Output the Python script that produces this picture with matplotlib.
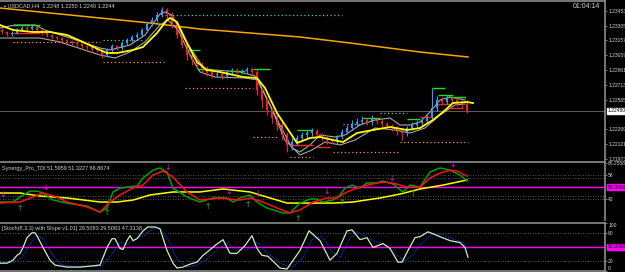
import matplotlib
matplotlib.use("Agg")
import matplotlib.pyplot as plt
import matplotlib.transforms as mtransforms

plt.rcParams["font.family"] = ["Liberation Sans", "DejaVu Sans"]

# USDCAD H4 bars (open of each bar = close of the previous one)
first_open = 1.2326
closes = [1.2324, 1.2322, 1.2323, 1.2326, 1.2328, 1.2327, 1.2329, 1.2326, 1.2323, 1.2321,
          1.2319, 1.2318, 1.2316, 1.2315, 1.2313, 1.2312, 1.2310, 1.2309, 1.2307, 1.2306,
          1.2301, 1.2306, 1.2310, 1.2308, 1.2313, 1.2316, 1.2319, 1.2321, 1.2326, 1.2332,
          1.2336, 1.2341, 1.2346, 1.2342, 1.2331, 1.2321, 1.2311, 1.2301, 1.2296, 1.2292,
          1.2288, 1.2284, 1.2281, 1.2282, 1.2280, 1.2284, 1.2286, 1.2284, 1.2285, 1.2287,
          1.2284, 1.2266, 1.2256, 1.2246, 1.2238, 1.2231, 1.2221, 1.2211, 1.2214, 1.2218,
          1.2221, 1.2223, 1.2225, 1.2221, 1.2218, 1.2216, 1.2215, 1.2219, 1.2224, 1.2228,
          1.2232, 1.2234, 1.2236, 1.2234, 1.2237, 1.2235, 1.2232, 1.2230, 1.2228, 1.2225,
          1.2223, 1.2228, 1.2231, 1.2233, 1.2235, 1.2239, 1.2248, 1.2256, 1.2254, 1.2258,
          1.2256, 1.2253, 1.2252, 1.2245]
highs = [1.2328, 1.2325, 1.2325, 1.2328, 1.2330, 1.2330, 1.2332, 1.2330, 1.2327, 1.2324,
         1.2322, 1.2320, 1.2319, 1.2317, 1.2316, 1.2314, 1.2313, 1.2311, 1.2310, 1.2308,
         1.2307, 1.2308, 1.2312, 1.2311, 1.2315, 1.2318, 1.2321, 1.2324, 1.2328, 1.2334,
         1.2339, 1.2344, 1.2349, 1.2348, 1.2344, 1.2333, 1.2323, 1.2313, 1.2304, 1.2298,
         1.2294, 1.2290, 1.2286, 1.2284, 1.2284, 1.2286, 1.2288, 1.2288, 1.2287, 1.2289,
         1.2289, 1.2286, 1.2268, 1.2259, 1.2248, 1.2241, 1.2234, 1.2224, 1.2218, 1.2221,
         1.2224, 1.2226, 1.2228, 1.2227, 1.2223, 1.2220, 1.2218, 1.2221, 1.2227, 1.2231,
         1.2236, 1.2238, 1.2240, 1.2238, 1.2241, 1.2239, 1.2237, 1.2234, 1.2232, 1.2230,
         1.2227, 1.2230, 1.2234, 1.2236, 1.2238, 1.2242, 1.2268, 1.2260, 1.2259, 1.2261,
         1.2260, 1.2259, 1.2256, 1.2256]
lows = [1.2322, 1.2320, 1.2320, 1.2322, 1.2325, 1.2325, 1.2326, 1.2324, 1.2321, 1.2319,
        1.2317, 1.2316, 1.2314, 1.2313, 1.2311, 1.2310, 1.2308, 1.2307, 1.2305, 1.2304,
        1.2298, 1.2299, 1.2304, 1.2306, 1.2306, 1.2311, 1.2314, 1.2317, 1.2319, 1.2324,
        1.2330, 1.2334, 1.2339, 1.2338, 1.2328, 1.2318, 1.2308, 1.2296, 1.2291, 1.2288,
        1.2284, 1.2280, 1.2278, 1.2279, 1.2277, 1.2278, 1.2282, 1.2282, 1.2282, 1.2283,
        1.2281, 1.2261, 1.2248, 1.2241, 1.2233, 1.2226, 1.2216, 1.2204, 1.2206, 1.2211,
        1.2215, 1.2218, 1.2220, 1.2218, 1.2215, 1.2212, 1.2212, 1.2212, 1.2217, 1.2222,
        1.2226, 1.2230, 1.2232, 1.2231, 1.2231, 1.2232, 1.2229, 1.2227, 1.2225, 1.2221,
        1.2216, 1.2220, 1.2226, 1.2229, 1.2231, 1.2233, 1.2237, 1.2245, 1.2251, 1.2252,
        1.2253, 1.2250, 1.2248, 1.2243]
opens = [first_open] + closes[:-1]

# moving averages (bar index, price)
orange_x = [-0.4, 9.6, 19.6, 29.6, 39.6, 49.6, 59.6, 69.6, 83.6, 93.2]
orange_y = [1.2348, 1.2343, 1.2338, 1.2333, 1.2327, 1.2323, 1.2319, 1.2313, 1.2304, 1.2299]

yellow_x = [-0.4, 2.2, 6.2, 9.6, 13, 16.2, 19.6, 21, 23, 26.2, 28.2, 31, 33, 33.6, 35, 37, 39, 41,
            43.6, 48.2, 51, 52.6, 55, 59, 61.6, 63.6, 66.2, 68.2, 71, 74.2, 77.6, 81, 83.6, 86.2,
            88.2, 90.2, 93, 94.2]
yellow_y = [1.2331, 1.2326, 1.2324, 1.2324, 1.2321, 1.2314, 1.2306, 1.2303, 1.2303, 1.2306, 1.2309,
            1.2323, 1.2336, 1.2338, 1.2334, 1.2313, 1.2294, 1.2286, 1.2284, 1.2279, 1.2278, 1.2268,
            1.2243, 1.2213, 1.2218, 1.2219, 1.2216, 1.2214, 1.2223, 1.2226, 1.2229, 1.2226, 1.2228,
            1.2236, 1.2244, 1.2253, 1.2254, 1.2253]

gray1_x = [-0.4, 2.6, 6.6, 8.6, 13.6, 19.6, 21.6, 25.6, 28.6, 31.6, 32.6, 34, 36.6, 38.6, 40.6, 42.6,
           47.6, 50.6, 52.6, 55.6, 58, 59.6, 61.6, 63.6, 66.6, 68.6, 71.6, 74.6, 77.6, 79.6, 81.6,
           83.6, 85.6, 87.6, 89.6, 92.6]
gray1_y = [1.2328, 1.2331, 1.2331, 1.2326, 1.2318, 1.2308, 1.2306, 1.2311, 1.2321, 1.2342, 1.2344,
           1.2341, 1.2316, 1.2301, 1.2286, 1.2286, 1.2284, 1.2280, 1.2261, 1.2231, 1.2208, 1.2204,
           1.2211, 1.2221, 1.2219, 1.2221, 1.2231, 1.2236, 1.2238, 1.2231, 1.2231, 1.2234, 1.2244,
           1.2256, 1.2259, 1.2256]
gray2_x = [-0.4, 3.6, 7.6, 11.6, 19.6, 22.6, 25.6, 28.6, 31.6, 33.2, 35.2, 37.6, 39.6, 42.6, 48.6,
           51.2, 53.6, 56.6, 59.6, 62, 64.6, 67.6, 70.6, 74.6, 78.6, 81.6, 84.6, 87.6, 90.6, 92.6]
gray2_y = [1.2318, 1.2318, 1.2318, 1.2314, 1.2301, 1.2298, 1.2304, 1.2314, 1.2331, 1.2336, 1.2326,
           1.2301, 1.2284, 1.2279, 1.2278, 1.2276, 1.2251, 1.2216, 1.2201, 1.2206, 1.2214, 1.2211,
           1.2216, 1.2228, 1.2226, 1.2223, 1.2228, 1.2241, 1.2251, 1.2252]

# support / resistance levels: (first bar, last bar, price)
teal_dots = [(32.6, 68, 1.2341), (20.2, 28, 1.2316), (68.2, 71.6, 1.2232), (75.6, 81, 1.2243),
             (90.2, 93.2, 1.2259)]
pink_dots = [(2.2, 19.6, 1.2314), (20.2, 32.6, 1.2294), (36.6, 50.2, 1.2268), (50.2, 55, 1.2219),
             (57.6, 62.2, 1.2199), (66.2, 79.6, 1.2204), (79.6, 93.2, 1.2214)]
green_levels = [(2.2, 7.6, 1.2331), (37, 39.6, 1.2306), (39, 42, 1.2287), (45.6, 48.6, 1.2285),
                (50.2, 53.6, 1.2287), (59, 62.2, 1.2226), (72.2, 75.6, 1.2238), (81, 83.6, 1.2237),
                (86, 88.6, 1.2268), (87.2, 90.2, 1.2261), (89.2, 92.6, 1.2259)]
red_levels = [(2.2, 7.6, 1.2323), (57.6, 62.2, 1.2211), (63, 65.6, 1.2209), (83.6, 86.2, 1.2239),
              (87, 89.6, 1.2252), (89.2, 92.2, 1.2248)]

price_ticks = [1.23453, 1.23305, 1.23157, 1.23009, 1.22861, 1.22713, 1.22565, 1.22269, 1.22121, 1.21973]

# Synergy Pro TDI
tdi_green_x = [-0.4, 2.2, 4.2, 5.6, 7, 8.2, 10.2, 13, 17, 19.6, 21, 22.2, 23.6, 25.2, 27, 28.2, 30.2,
               31.6, 33, 34.2, 37, 39.6, 42.2, 45, 46.2, 47.6, 49.6, 51, 53, 56.2, 57.6, 59.6, 61.6,
               63, 64.2, 66.2, 67.6, 68.6, 70, 71.6, 73, 75, 76.2, 78.2, 80.2, 81.6, 83.6, 85.6,
               87.6, 89.6, 91.6, 93]
tdi_green_y = [40.2, 40.2, 44.9, 47.5, 47.5, 46.2, 41.5, 39.5, 37.5, 33.5, 36.2, 46.9, 49.5, 50.2,
               50.9, 56.2, 61.5, 62.9, 60.2, 49.5, 43.5, 40.2, 42.9, 42.9, 40.2, 42.9, 44.9, 40.2,
               36.2, 32.9, 32.9, 39.5, 42.2, 42.2, 40.2, 41.5, 44.9, 49.5, 51.5, 49.5, 52.9, 52.9,
               54.2, 52.2, 46.9, 51.5, 50.2, 60.2, 62.9, 61.5, 58.2, 54.2]
tdi_red_x = [-0.4, 3.6, 6.2, 8.2, 11, 13, 17, 19.6, 21.6, 23.6, 26.2, 28.2, 30.2, 32.2, 34.2, 37,
             39.6, 43.6, 47.6, 49.6, 52.2, 55, 57.6, 59.6, 62.2, 65, 67, 69, 71.6, 75, 76.2, 78.2,
             81, 83.6, 85.6, 87.6, 89.6, 91, 93]
tdi_red_y = [39.5, 40.2, 43.5, 46.2, 43.5, 40.2, 36.9, 33.5, 40.2, 44.9, 49.5, 51.5, 58.2, 60.9,
             56.9, 46.9, 41.5, 42.9, 41.5, 42.9, 40.2, 36.2, 32.9, 34.9, 40.2, 42.9, 42.9, 46.9,
             50.2, 52.9, 53.5, 52.9, 50.2, 50.2, 56.2, 59.5, 61.5, 60.9, 57.5]
tdi_yellow_x = [-0.4, 3.6, 7.6, 13, 19.6, 23, 26.2, 29.6, 34.2, 37, 39.6, 44.2, 49.6, 53, 57, 61.6,
                66.2, 70.2, 75.6, 79.6, 83.6, 88.2, 93]
tdi_yellow_y = [46.2, 46.2, 44.2, 42.9, 40.2, 40.2, 41.5, 44.9, 46.9, 46.9, 46.9, 48.9, 46.9, 43.5,
                39.5, 39.5, 39.5, 40.2, 42.9, 45.5, 48.9, 51.5, 54.9]
sell_x = [0.2, 8.8, 33.2, 45.4, 51.2, 65, 78, 90.2]
sell_y = [45.5, 50.2, 63.5, 46.9, 46.2, 46.9, 56.2, 65.5]
buy_x = [3.6, 21, 41.2, 49.2, 59.2, 68, 82.2]
buy_y = [36.2, 32.9, 36.9, 38.5, 29.5, 40.2, 46.2]
tdi_levels = [58, 56, 44, 42]

# Stochastic 8,3,3
stoch_x = [-0.4, 1, 2.2, 3, 3.6, 4.2, 5, 6, 6.6, 7.2, 8.2, 9.6, 10.6, 13, 15.6, 17.6, 19.6, 21, 22,
           22.6, 23.6, 24.2, 25, 25.6, 26.2, 27, 28.2, 29.2, 30.6, 31.6, 33, 34.2, 35, 36.2, 37.6,
           39, 40.2, 41.2, 42.6, 44.2, 45.6, 47, 48.6, 50, 51, 52, 53.2, 55.6, 57, 59.6, 61.4,
           63.6, 65.6, 67, 69, 70, 71.6, 73, 74.2, 76.2, 77.6, 79.2, 80, 81.2, 82.6, 83.6, 85.2,
           86.2, 87.6, 89.6, 91.6, 92.6, 93.2]
stoch_y = [16.3, 16.3, 22.4, 32.7, 36.8, 49, 69.4, 79.6, 79.6, 69.4, 49, 22.4, 12.3, 8.2, 8.2, 10.2,
           12.3, 49, 67.3, 67.3, 47, 44.9, 63.3, 73.5, 63.3, 67.3, 83.7, 91.8, 91.8, 87.8, 42.9,
           16.3, 6.2, 8.2, 14.3, 18.4, 32.7, 40.8, 53.1, 65.3, 36.8, 36.8, 53.1, 73.5, 47, 32.7,
           30.6, 6.2, 4.1, 42.9, 83.7, 63.3, 22.4, 36.8, 83.7, 85.7, 65.3, 69.4, 49, 57.1, 47,
           18.4, 18.4, 42.9, 69.4, 71.4, 81.6, 77.6, 71.4, 63.3, 59.2, 49, 28.6]
signal_x = [-0.4, 2, 4, 5.6, 7, 8.4, 10, 11.6, 14, 18, 20, 22, 23.6, 25, 26.6, 28.6, 30, 31.6, 33.4,
            35, 37, 39, 41, 43, 45, 47, 49, 51, 52.6, 54, 56, 58, 60, 62, 64, 66, 67.6, 69.6, 71,
            72.6, 74.6, 77, 78.6, 80.6, 82, 84, 86, 88, 90, 92, 93.2]
signal_y = [18, 17, 28, 55, 75, 65, 35, 15, 9, 9, 11, 35, 60, 55, 66, 75, 88, 90, 62, 25, 9, 12, 25,
            45, 58, 45, 44, 60, 42, 30, 14, 8, 25, 65, 72, 40, 28, 68, 82, 72, 62, 52, 35, 22, 32,
            58, 76, 77, 67, 61, 47]

BG = "black"
GRID = "#8c8c8c"
TXT = "#d0d0d0"
LBL = 3.6

fig = plt.figure(figsize=(6.25, 2.72), dpi=100, facecolor=BG)
ax1 = fig.add_axes([0, 112 / 272, 605 / 625, 159 / 272])
ax2 = fig.add_axes([0, 52 / 272, 605 / 625, 58 / 272])
ax3 = fig.add_axes([0, 1 / 272, 605 / 625, 48 / 272])

for ax in (ax1, ax2, ax3):
    ax.set_facecolor(BG)
    ax.set_xlim(-0.4, 120.6)
    ax.set_xticks([])
    ax.yaxis.tick_right()
    ax.tick_params(axis="y", colors=GRID, labelcolor=TXT, labelsize=LBL, length=1.5, width=0.6, pad=0.8)
    ax.spines["left"].set_visible(False)
    ax.spines["bottom"].set_visible(False)
    for s in ("top", "right"):
        ax.spines[s].set_color(GRID)
        ax.spines[s].set_linewidth(1.2)
ax3.spines["bottom"].set_visible(True)
ax3.spines["bottom"].set_color(GRID)
ax3.spines["bottom"].set_linewidth(1.2)

# ---- main price window
ax1.set_ylim(1.2196, 1.2355)
ax1.axhline(closes[-1], color="#5a5a5a", lw=0.8)
ax1.plot(orange_x, orange_y, color="#ffa500", lw=1.1)
ax1.plot(gray2_x, gray2_y, color="#a8a8a8", lw=0.8)
ax1.plot(gray1_x, gray1_y, color="#a8a8a8", lw=0.8)

for x0, x1, p in teal_dots:
    ax1.hlines(p, x0, x1, color="#40d0b0", lw=0.9, linestyles=(0, (1, 2)))
for x0, x1, p in pink_dots:
    ax1.hlines(p, x0, x1, color="#ff8080", lw=0.9, linestyles=(0, (1, 2)))
for x0, x1, p in green_levels:
    ax1.hlines(p, x0, x1, color="#20e020", lw=1.0)
for x0, x1, p in red_levels:
    ax1.hlines(p, x0, x1, color="#ff2020", lw=1.0)

for i, (o, h, l, c) in enumerate(zip(opens, highs, lows, closes)):
    col = "#2b9cff" if c >= o else "#ff1a1a"
    ax1.vlines(i, l, h, color=col, lw=0.8)
    ax1.bar(i, max(abs(c - o), 0.00004), bottom=min(o, c), width=0.55, color=col, lw=0)

ax1.plot(yellow_x, yellow_y, color="#ffff00", lw=1.3)

ax1.set_yticks(price_ticks)
ax1.set_yticklabels(["%.5f" % t for t in price_ticks])
tr1 = mtransforms.blended_transform_factory(ax1.transAxes, ax1.transData)
ax1.text(1.004, closes[-1], "%.5f" % closes[-1], transform=tr1, fontsize=LBL, color="black",
         va="center", ha="left", bbox=dict(boxstyle="square,pad=0.12", fc="white", ec="white"))
ax1.text(0.006, 0.985, "\u25aa USDCAD,H4  1.2248 1.2250 1.2240 1.2244", transform=ax1.transAxes,
         fontsize=4, color=TXT, va="top", ha="left")
ax1.text(0.992, 0.985, "01:04:14", transform=ax1.transAxes, fontsize=5, color=TXT, va="top", ha="right")

# ---- TDI window
ax2.set_ylim(28.2, 66.9)
for lv in tdi_levels:
    ax2.axhline(lv, color="#6a6a6a", lw=0.6, linestyle=(0, (1, 2)))
ax2.axhline(50, color="#ff00ff", lw=1.0)
ax2.plot(tdi_yellow_x, tdi_yellow_y, color="#ffff00", lw=1.1)
ax2.plot(tdi_green_x, tdi_green_y, color="#00a000", lw=1.1)
ax2.plot(tdi_red_x, tdi_red_y, color="#ff1010", lw=1.1)
for x, y in zip(sell_x, sell_y):
    ax2.text(x, y, "\u2193", color="#ff00ff", fontsize=5.5, ha="center", va="center", family="DejaVu Sans")
for x, y in zip(buy_x, buy_y):
    ax2.text(x, y, "\u2191", color="#20c020", fontsize=5.5, ha="center", va="center", family="DejaVu Sans")
ax2.set_yticks([66.2558, 58, 42])
ax2.set_yticklabels(["66.2558", "58", "42"])
tr2 = mtransforms.blended_transform_factory(ax2.transAxes, ax2.transData)
ax2.text(1.004, 50, "50.0000", transform=tr2, fontsize=LBL, color="black", va="center", ha="left",
         bbox=dict(boxstyle="square,pad=0.12", fc="#ff00ff", ec="#ff00ff"))
ax2.text(0.003, 0.93, "Synergy_Pro_TDI 51.5959 51.3227 66.8674", transform=ax2.transAxes,
         fontsize=4, color=TXT, va="top", ha="left")

# ---- Stochastic window
ax3.set_ylim(0, 100)
for lv in (80, 20):
    ax3.axhline(lv, color="#7a7a7a", lw=0.6, linestyle=(0, (1, 2)))
ax3.axhline(50, color="#ff00ff", lw=1.0)
ax3.plot(signal_x, signal_y, color="#1f3cff", lw=0.7, linestyle=(0, (1, 1)))
ax3.plot(stoch_x, stoch_y, color="#c8f0c0", lw=0.9)
ax3.set_yticks([100, 80, 20, 0])
ax3.set_yticklabels(["100", "80", "20", "0"])
lbls = ax3.get_yticklabels()
lbls[0].set_va("top")
lbls[-1].set_va("bottom")
tr3 = mtransforms.blended_transform_factory(ax3.transAxes, ax3.transData)
ax3.text(1.004, 50, "50.0000", transform=tr3, fontsize=LBL, color="black", va="center", ha="left",
         bbox=dict(boxstyle="square,pad=0.12", fc="#ff00ff", ec="#ff00ff"))
ax3.text(0.003, 0.93, "[Stoch(8,3,3) with Slope v1.01] 29.5083 29.5083 47.3138",
         transform=ax3.transAxes, fontsize=4, color=TXT, va="top", ha="left")

fig.savefig("out.png", dpi=100, facecolor=BG)
